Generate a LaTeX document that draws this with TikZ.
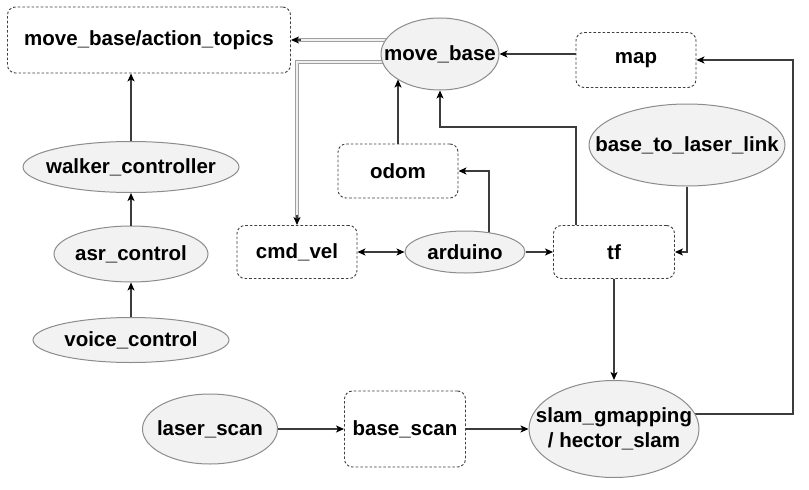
\documentclass[tikz,border=0pt]{standalone}
\usepackage{fontspec}
\setmainfont{Liberation Sans}
\usetikzlibrary{arrows.meta,calc,shapes.geometric}
\pgfdeclarelayer{paper}
\pgfdeclarelayer{background}
\pgfsetlayers{paper,background,main}
\definecolor{ellfill}{HTML}{F2F2F2}
\definecolor{ellline}{HTML}{8C8C8C}
\definecolor{boxline}{HTML}{404040}
\definecolor{conn}{HTML}{3C3C3C}
\tikzset{
  elltext/.style={inner sep=0pt, font=\fontsize{20.5}{24.5}\selectfont\bfseries, align=center},
  ell/.style={ellipse, draw=ellline, fill=ellfill, line width=1pt, inner sep=0pt,
    label={[elltext]center:{#1}}},
  topic/.style={rectangle, rounded corners=8pt, draw=boxline, fill=white, line width=0.9pt,
    dash pattern=on 2.6pt off 2pt, inner sep=0pt,
    font=\fontsize{20.5}{23}\selectfont\bfseries},
  arr/.style={draw=conn, line width=1.2pt, -{Stealth[length=8pt,width=7pt,inset=2pt,color=black]}},
  biarr/.style={draw=conn, line width=1.2pt, {Stealth[length=8pt,width=7pt,inset=2pt,color=black]}-{Stealth[length=8pt,width=7pt,inset=2pt,color=black]}},
  dbl/.style={draw=gray!75, double=gray!12, double distance=2pt, line width=1pt}
}
\begin{document}
\begin{tikzpicture}[x=1pt,y=-1pt]
\useasboundingbox (0,0) rectangle (809,490);
\begin{pgfonlayer}{paper}
  \fill[white] (0,0) rectangle (809,490);
\end{pgfonlayer}
% topics
\node[topic, minimum width=283pt, minimum height=66pt] (act) at (149,40) {move\_base/action\_topics};
\node[topic, minimum width=120pt, minimum height=55pt] (map) at (636,60) {map};
\node[topic, minimum width=120pt, minimum height=54pt] (odom) at (398,171) {odom};
\node[topic, minimum width=120pt, minimum height=53pt] (cmd) at (297,252) {cmd\_vel};
\node[topic, minimum width=121pt, minimum height=53pt] (tf) at (614,252) {tf};
\node[topic, minimum width=121pt, minimum height=76pt] (bs) at (405,429) {base\_scan};
% ellipses
\node[ell={move\_base}, minimum width=118pt, minimum height=72pt] (mb) at (440,54) {};
\node[ell={walker\_controller}, minimum width=216pt, minimum height=51pt] (wc) at (131,167) {};
\node[ell={asr\_control}, minimum width=154pt, minimum height=56pt] (asr) at (131,254) {};
\node[ell={voice\_control}, minimum width=196pt, minimum height=45pt] (vc) at (131,340) {};
\node[ell={arduino}, minimum width=120pt, minimum height=42pt] (ard) at (465,252) {};
\node[ell={base\_to\_laser\_link}, minimum width=196pt, minimum height=82pt] (btl) at (687,145) {};
\node[ell={laser\_scan}, minimum width=135pt, minimum height=70pt] (ls) at (210,429) {};
\node[ell={slam\_gmapping\\/ hector\_slam}, minimum width=170pt, minimum height=97pt] (slam) at (614,429) {};
% connectors
\begin{pgfonlayer}{background}
  \draw[dbl, shorten >=6pt] (act.east -| mb.center) -- (act.east);
  \draw[dbl, shorten >=6pt] ($(mb.center)+(0,8)$) -| (cmd.north);
  \draw[arr] ($(slam.center)+(0,-15)$) -- (793,414) |- (map.east);
  \draw[arr] ($(ard.center)+(24,0)$) |- (odom.east);
\end{pgfonlayer}
\draw[arr] ($(act.east)+(10,0)$) -- (act.east);
\draw[arr] ($(cmd.north)+(0,-10)$) -- (cmd.north);
\draw[arr] (wc.north) -- (wc.north |- act.south);
\draw[arr] (asr.north) -- (wc.south);
\draw[arr] (vc.north) -- (asr.south);
\draw[arr] (map.west |- mb.east) -- (mb.east);
\draw[arr] (odom.north) -- (odom.north |- mb.211);
\draw[arr] (tf.north -| 576,0) -- (576,127) -| (mb.south);
\draw[biarr] (cmd.east) -- (ard.west);
\draw[arr] (ard.east) -- (tf.west);
\draw[arr] (btl.south) |- (tf.east);
\draw[arr] (tf.south) -- (slam.north);
\draw[arr] (ls.east) -- (bs.west);
\draw[arr] (bs.east) -- (slam.west);
\end{tikzpicture}
\end{document}
